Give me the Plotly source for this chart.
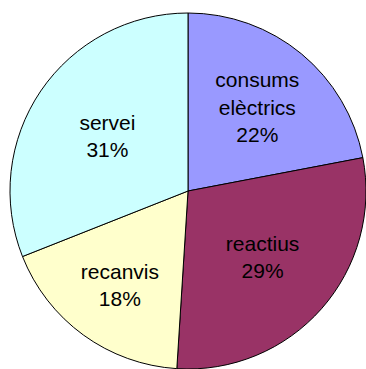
import plotly.graph_objects as go

# Share of costs by category
categories = ["consums elèctrics", "reactius", "recanvis", "servei"]
label_text = ["consums<br>elèctrics", "reactius", "recanvis", "servei"]
values = [22, 29, 18, 31]
colors = ["#9999FF", "#993366", "#FFFFCC", "#CCFFFF"]

W, H = 366, 369
cx, cy, r = 188, 191, 178

fig = go.Figure(
    go.Pie(
        labels=categories,
        values=values,
        text=label_text,
        sort=False,
        direction="clockwise",
        rotation=0,
        texttemplate="%{text}<br>%{percent:.0%}",
        textposition="inside",
        insidetextorientation="horizontal",
        textfont=dict(family="Liberation Sans, Arial, sans-serif", size=21, color="black"),
        marker=dict(colors=colors, line=dict(color="black", width=1)),
        domain=dict(
            x=[max(0, (cx - r) / W), min(1, (cx + r) / W)],
            y=[max(0, 1 - (cy + r) / H), min(1, 1 - (cy - r) / H)],
        ),
        hoverinfo="label+percent",
    )
)

fig.update_layout(
    width=W,
    height=H,
    margin=dict(l=0, r=0, t=0, b=0),
    paper_bgcolor="white",
    plot_bgcolor="white",
    showlegend=False,
)

fig.write_html("out.html")
